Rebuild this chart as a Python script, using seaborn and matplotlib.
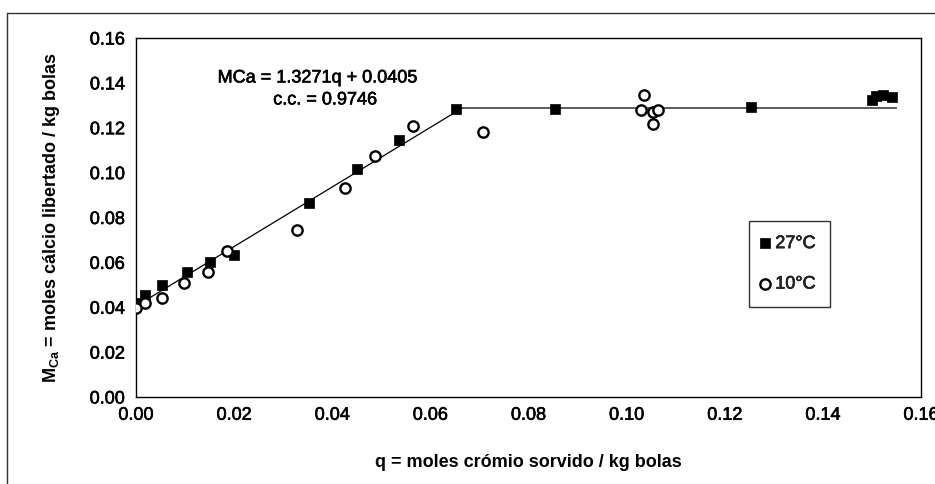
import matplotlib
matplotlib.use("Agg")
import matplotlib.pyplot as plt
from matplotlib.lines import Line2D
import matplotlib.patheffects as pe
import seaborn as sns
import pandas as pd

# ---- data ----
sq_q = [0.0005, 0.0018, 0.0052, 0.0103, 0.0151, 0.0200, 0.0352, 0.0450, 0.0537,
        0.0653, 0.0853, 0.1253, 0.1500, 0.1508, 0.1522, 0.1540]
sq_v = [0.0420, 0.0455, 0.0499, 0.0556, 0.0603, 0.0635, 0.0863, 0.1015, 0.1145,
        0.1284, 0.1284, 0.1291, 0.1325, 0.1342, 0.1345, 0.1335]
circ_q = [0.0001, 0.0018, 0.0052, 0.0097, 0.0146, 0.0185, 0.0328, 0.0427, 0.0488,
          0.0565, 0.0707, 0.1029, 0.1035, 0.1054, 0.1063, 0.1054]
circ_v = [0.0395, 0.0417, 0.0443, 0.0510, 0.0558, 0.0650, 0.0744, 0.0933, 0.1074,
          0.1209, 0.1181, 0.1279, 0.1346, 0.1269, 0.1279, 0.1217]
fit_q = [0.0, 0.0665, 0.1550]
fit_v = [0.0405, 0.1288, 0.1288]
series_labels = ["27°C", "10°C"]
x_ticks = [0.00, 0.02, 0.04, 0.06, 0.08, 0.10, 0.12, 0.14, 0.16]
y_ticks = [0.00, 0.02, 0.04, 0.06, 0.08, 0.10, 0.12, 0.14, 0.16]
eq_line1 = "MCa = 1.3271q + 0.0405"
eq_line2 = "c.c. = 0.9746"
x_title = "q = moles crómio sorvido / kg bolas"
y_title = r"$\mathbf{M_{Ca}}$ = moles cálcio libertado / kg bolas"

sns.set_theme(style="white")
plt.rcParams["font.family"] = ["Liberation Sans", "DejaVu Sans"]
plt.rcParams["mathtext.fontset"] = "custom"
plt.rcParams["mathtext.rm"] = "Liberation Sans"
plt.rcParams["mathtext.bf"] = "Liberation Sans:bold"
plt.rcParams["mathtext.it"] = "Liberation Sans:italic"

thick = [pe.withStroke(linewidth=0.45, foreground="black")]

df_sq = pd.DataFrame({"q": sq_q, "v": sq_v})
df_c = pd.DataFrame({"q": circ_q, "v": circ_v})
df_fit = pd.DataFrame({"q": fit_q, "v": fit_v})

fig = plt.figure(figsize=(9.35, 4.84), dpi=100)
ax = fig.add_axes([136 / 935, 1 - 397 / 484, (921 - 136) / 935, (397 - 38) / 484])

sns.lineplot(data=df_fit, x="q", y="v", ax=ax, color="black", lw=0.9,
             sort=False, estimator=None, legend=False, zorder=1)
sns.scatterplot(data=df_sq, x="q", y="v", ax=ax, marker="s", s=60,
                color="black", edgecolor="black", linewidth=0.5,
                label=series_labels[0], zorder=3)
sns.scatterplot(data=df_c, x="q", y="v", ax=ax, marker="o", s=55,
                facecolor="white", edgecolor="black", linewidth=1.7,
                label=series_labels[1], zorder=4)

ax.set_xlim(0, 0.16)
ax.set_ylim(0, 0.16)
ax.set_xticks(x_ticks)
ax.set_yticks(y_ticks)
ax.set_xticklabels([f"{t:.2f}" for t in x_ticks])
ax.set_yticklabels([f"{t:.2f}" for t in y_ticks])
ax.tick_params(axis="both", which="major", direction="inout", length=8,
               width=1, color="black", labelsize=13, labelcolor="black")
ax.tick_params(axis="x", pad=3)
ax.tick_params(axis="y", pad=4)
for lbl in ax.get_xticklabels() + ax.get_yticklabels():
    lbl.set_path_effects(thick)
for s in ax.spines.values():
    s.set_color("black")
    s.set_linewidth(1)
    s.set_visible(True)

ax.set_xlabel(x_title, fontsize=13, fontweight="bold", labelpad=22, color="black")
ax.set_ylabel(y_title, fontsize=13, fontweight="bold", labelpad=20, color="black")

ax.text(0.0369, 0.1422, eq_line1, ha="center", va="center", fontsize=13,
        color="black", path_effects=thick)
ax.text(0.0385, 0.1324, eq_line2, ha="center", va="center", fontsize=13,
        color="black", path_effects=thick)

leg = ax.legend(loc="lower left", bbox_to_anchor=(0.781, 0.2507), frameon=True,
                fancybox=False, edgecolor="black", fontsize=13,
                labelspacing=1.3, handletextpad=0.45, borderpad=0.8,
                handlelength=0.2, borderaxespad=0)
leg.get_frame().set_linewidth(1)
for t in leg.get_texts():
    t.set_path_effects(thick)

# outer chart border
fig.add_artist(Line2D([7 / 935, 1.0], [1 - 13 / 484, 1 - 13 / 484],
                      transform=fig.transFigure, color="#333333", lw=1))
fig.add_artist(Line2D([7 / 935, 7 / 935], [0, 1 - 13 / 484],
                      transform=fig.transFigure, color="#333333", lw=1))

fig.savefig("out.png", dpi=100, facecolor="white")
